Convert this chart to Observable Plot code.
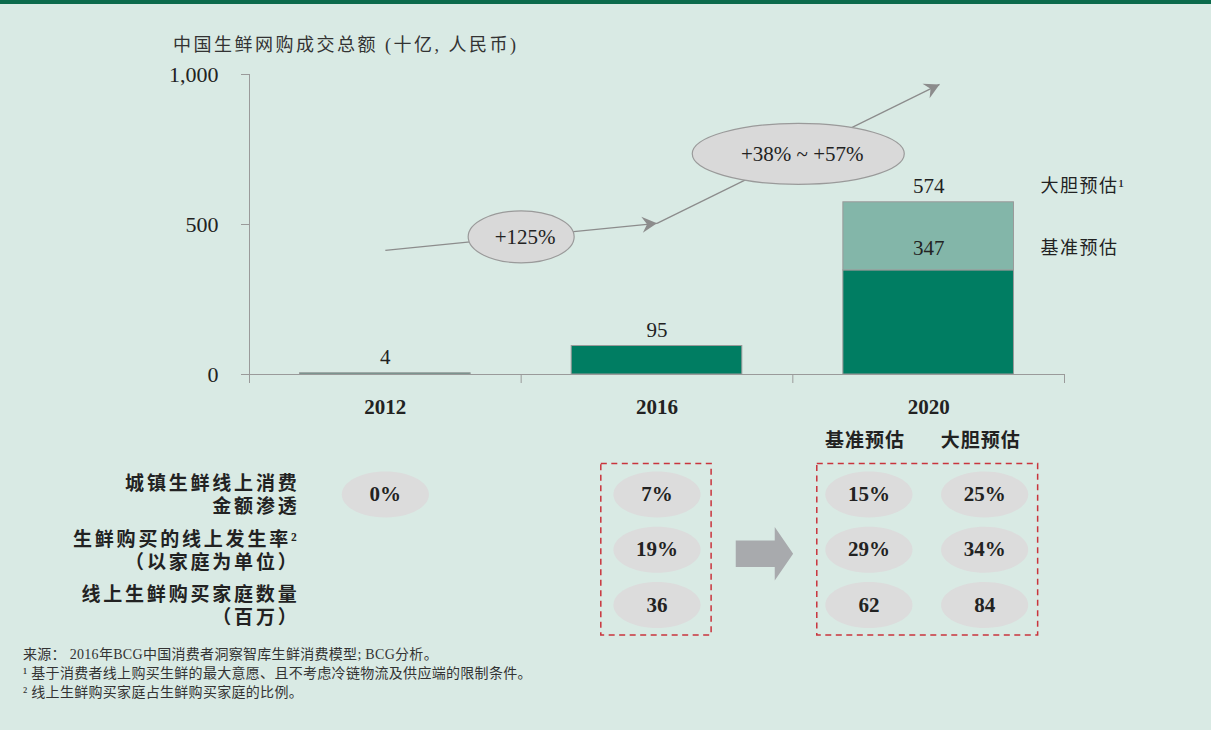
<!DOCTYPE html>
<html><head><meta charset="utf-8">
<script src="https://cdn.jsdelivr.net/npm/d3@7"></script>
<script src="https://cdn.jsdelivr.net/npm/@observablehq/plot@0.6"></script>
<style>
html,body{margin:0;padding:0;}
body{width:1211px;height:730px;background:#d9eae4;position:relative;overflow:hidden;font-family:"Liberation Serif","Noto Sans CJK SC",serif;color:#222;}
#stripe{position:absolute;left:0;top:0;width:1211px;height:4px;background:#0b6b4c;}
#title{position:absolute;left:173px;top:33px;font-size:18px;line-height:24px;letter-spacing:2.5px;color:#333;white-space:nowrap;}
#chart{position:absolute;left:0;top:0;}
#table{position:absolute;left:0;top:420px;}
#notes{position:absolute;left:23px;top:645px;font-size:14px;line-height:19px;letter-spacing:0.3px;color:#333;white-space:nowrap;}
</style></head>
<body>
<div id="stripe"></div>
<div id="chart"></div>
<div id="table"></div>
<div id="title"></div>
<div id="notes"></div>
<script>
// ---------------- data ----------------
const titleText = "中国生鲜网购成交总额 (十亿, 人民币)";
const years = ["2012", "2016", "2020"];
const gmvBase = [4, 95, 347];
const gmvBold = [null, null, 574];
const yTicks = [0, 500, 1000];
const growthLabels = ["+125%", "+38% ~ +57%"];
const growthFrom = [[0.5, 414], [1.5, 504]];   // [year index, GMV level]
const growthTo = [[1.5, 504], [2.54, 967]];
const scenarioLabels = ["基准预估", "大胆预估"];
const metricLabels = ["城镇生鲜线上消费\n金额渗透", "生鲜购买的线上发生率²\n（以家庭为单位）", "线上生鲜购买家庭数量\n（百万）"];
const metric2012 = ["0%", null, null];
const metric2016 = ["7%", "19%", "36"];
const metric2020Base = ["15%", "29%", "62"];
const metric2020Bold = ["25%", "34%", "84"];
const notes = [
  "来源：  2016年BCG中国消费者洞察智库生鲜消费模型; BCG分析。",
  "¹ 基于消费者线上购买生鲜的最大意愿、且不考虑冷链物流及供应端的限制条件。",
  "² 线上生鲜购买家庭占生鲜购买家庭的比例。"
];

// ---------------- style ----------------
const W = 1211;
const DARK = "#007d62", LIGHT = "#83b6a9", AXIS = "#9a9a9a", INK = "#222", ARROW = "#8c8c8c";
const FONT = '"Liberation Serif","Noto Sans CJK SC",serif';
const NUM = 21;
const BAR_PAD = 0.186;

document.getElementById("title").textContent = titleText;
document.getElementById("notes").innerHTML = notes.map(n => `<div>${n}</div>`).join("");

function ellipse(rx, ry) {
  const k = 0.5522847498;
  return {draw(c) {
    c.moveTo(rx, 0);
    c.bezierCurveTo(rx, ry * k, rx * k, ry, 0, ry);
    c.bezierCurveTo(-rx * k, ry, -rx, ry * k, -rx, 0);
    c.bezierCurveTo(-rx, -ry * k, -rx * k, -ry, 0, -ry);
    c.bezierCurveTo(rx * k, -ry, rx, -ry * k, rx, 0);
    c.closePath();
  }};
}
const stealth = {draw(c) { c.moveTo(0, 0); c.lineTo(-15, -8); c.lineTo(-10, 0); c.lineTo(-15, 8); c.closePath(); }};
const blockArrow = {draw(c) {
  c.moveTo(-28.7, -13.3); c.lineTo(10.3, -13.3); c.lineTo(10.3, -26.7); c.lineTo(28.7, 0);
  c.lineTo(10.3, 26.7); c.lineTo(10.3, 13.3); c.lineTo(-28.7, 13.3); c.closePath();
}};

function spaceCJK(svg, fn) {
  d3.select(svg).selectAll("text").each(function() {
    const t = this.textContent;
    if (/[\u4e00-\u9fff]/.test(t)) { const s = fn(t); if (s) this.setAttribute("letter-spacing", s); }
  });
}

// ---------------- chart ----------------
const bars = years.map((year, i) => ({year, i, base: gmvBase[i], bold: gmvBold[i]}));
const boldBars = bars.filter(d => d.bold != null);
const arrows = growthLabels.map((label, k) => ({
  label,
  x1: growthFrom[k][0], y1: growthFrom[k][1], x2: growthTo[k][0], y2: growthTo[k][1],
  xm: (growthFrom[k][0] + growthTo[k][0]) / 2, ym: (growthFrom[k][1] + growthTo[k][1]) / 2
}));

function buildChart(angles) {
  return Plot.plot({
    width: W, height: 430,
    marginLeft: 249, marginRight: 147, marginTop: 74, marginBottom: 56,
    style: {background: "transparent", fontFamily: FONT, fontSize: "20px", color: INK, overflow: "visible"},
    x: {type: "linear", domain: [0, 3]},
    y: {domain: [0, 1000]},
    marks: [
      Plot.rectY(bars, {x1: d => d.i + BAR_PAD, x2: d => d.i + 1 - BAR_PAD, y1: 0, y2: "base", fill: DARK, stroke: AXIS, strokeWidth: 1}),
      Plot.rectY(boldBars, {x1: d => d.i + BAR_PAD, x2: d => d.i + 1 - BAR_PAD, y1: "base", y2: "bold", fill: LIGHT, stroke: AXIS, strokeWidth: 1}),
      Plot.ruleX([0], {stroke: AXIS}),
      Plot.ruleY([0], {stroke: AXIS}),
      Plot.axisY(yTicks, {tickSize: 8, tickPadding: 23, tickFormat: d3.format(","), stroke: AXIS, fill: INK, fontSize: NUM + 1}),
      Plot.axisX([0, 1, 2, 3], {tickSize: 9, tickFormat: () => "", stroke: AXIS}),
      Plot.text(years, {x: (d, i) => i + 0.5, y: 0, dy: 33, text: d => d, fontWeight: "bold", fontSize: NUM, fill: INK}),
      Plot.text(bars.filter(d => d.bold == null), {x: d => d.i + 0.5, y: "base", dy: -16, text: d => String(d.base), fontSize: NUM, fill: INK}),
      Plot.text(boldBars, {x: d => d.i + 0.5, y: "bold", dy: -16, text: d => String(d.bold), fontSize: NUM, fill: INK}),
      Plot.text(boldBars, {x: d => d.i + 0.5, y: "base", dy: -22, text: d => String(d.base), fontSize: NUM, fill: INK}),
      Plot.text(boldBars, {x: d => d.i + 1 - BAR_PAD + 0.098, y: "bold", dy: -16, text: () => scenarioLabels[1] + "¹", textAnchor: "start", fontSize: 18, fill: INK}),
      Plot.text(boldBars, {x: d => d.i + 1 - BAR_PAD + 0.098, y: "base", dy: -22, text: () => scenarioLabels[0], textAnchor: "start", fontSize: 18, fill: INK}),
      Plot.link(arrows, {x1: "x1", y1: "y1", x2: "x2", y2: "y2", stroke: ARROW, strokeWidth: 1.3}),
      Plot.dot(arrows, {x: "x2", y: "y2", symbol: stealth, r: 5, fill: ARROW, stroke: "none", rotate: (d, i) => angles[i]}),
      Plot.dot([arrows[0]], {x: "xm", y: "ym", symbol: ellipse(53, 26), r: 5, fill: "#d9d9d9", stroke: "#9a9a9a", strokeWidth: 1.2}),
      Plot.dot([arrows[1]], {x: "xm", y: "ym", symbol: ellipse(106, 30.5), r: 5, fill: "#d9d9d9", stroke: "#9a9a9a", strokeWidth: 1.2}),
      Plot.text(arrows, {x: "xm", y: "ym", text: "label", dx: 4, fontSize: NUM, fill: INK})
    ]
  });
}
const probe = buildChart([0, 0]);
const sx = probe.scale("x"), sy = probe.scale("y");
const angles = arrows.map(a => Math.atan2(sy.apply(a.y2) - sy.apply(a.y1), sx.apply(a.x2) - sx.apply(a.x1)) * 180 / Math.PI);
const chart = buildChart(angles);
spaceCJK(chart, () => "1.5px");
document.getElementById("chart").appendChild(chart);

// ---------------- metrics table ----------------
const colDefs = [
  {x: 0.5, values: metric2012},
  {x: 1.5, values: metric2016},
  {x: 2.5 - 0.22, values: metric2020Base, header: scenarioLabels[0]},
  {x: 2.5 + 0.206, values: metric2020Bold, header: scenarioLabels[1]}
];
const cells = colDefs.flatMap(c => c.values.map((v, r) => ({x: c.x, r, v}))).filter(d => d.v != null);
const headers = colDefs.filter(c => c.header);
const boxes = [
  {x1: colDefs[1].x - 0.205, x2: colDefs[1].x + 0.201},
  {x1: colDefs[2].x - 0.19, x2: colDefs[3].x + 0.197}
];
const gapMid = (boxes[0].x2 + boxes[1].x1) / 2;

const table = Plot.plot({
  width: W, height: 220,
  marginLeft: 249, marginRight: 147, marginTop: 74, marginBottom: 35.5,
  style: {background: "transparent", fontFamily: FONT, fontSize: "20px", color: INK, overflow: "visible"},
  x: {type: "linear", domain: [0, 3], axis: null},
  y: {domain: [0, 2], reverse: true, axis: null},
  marks: [
    Plot.rect(boxes, {x1: "x1", x2: "x2", y1: -0.55, y2: 2.55, fill: "none", stroke: "#c9343c", strokeWidth: 1.5, strokeDasharray: "6,4.5"}),
    Plot.dot(cells, {x: "x", y: "r", symbol: ellipse(43.6, 23), r: 5, fill: "#dcdcdc", stroke: "none"}),
    Plot.text(cells, {x: "x", y: "r", text: "v", fontWeight: "bold", fontSize: NUM, fill: INK}),
    Plot.text(metricLabels, {x: 0.184, y: (d, i) => i, text: d => d, textAnchor: "end", lineHeight: 1.21, fontWeight: "bold", fontSize: 19, fill: INK}),
    Plot.text(headers, {x: "x", y: -0.97, text: "header", dx: -4, fontWeight: "bold", fontSize: 19, fill: INK}),
    Plot.dot([gapMid], {x: d => d, y: 1, dy: 4, symbol: blockArrow, r: 5, fill: "#a8aaad", stroke: "none"})
  ]
});
spaceCJK(table, t => scenarioLabels.includes(t) ? "1px" : "2.8px");
document.getElementById("table").appendChild(table);
</script>
</body></html>
